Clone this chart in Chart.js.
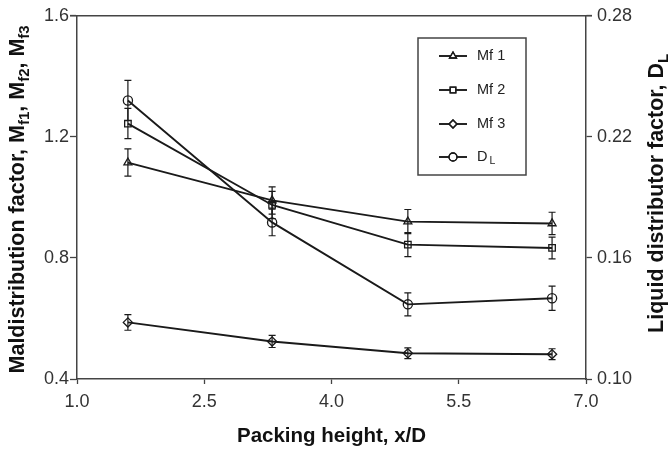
<!DOCTYPE html>
<html>
<head>
<meta charset="utf-8">
<script src="https://cdn.jsdelivr.net/npm/chart.js@4.4.1/dist/chart.umd.min.js"></script>
<style>
  html, body { margin:0; padding:0; background:#fff; }
  #wrap { width:669px; height:452px; position:relative; }
</style>
</head>
<body>
<div id="wrap"><canvas id="c"></canvas></div>
<script>
// ── Data ───────────────────────────────────────
const X_POS   = [1.6, 3.3, 4.9, 6.6];

const MF1     = [1.115, 0.99, 0.92, 0.914];
const MF1_ERR = [0.045, 0.045, 0.04, 0.037];

const MF2     = [1.244, 0.975, 0.844, 0.833];
const MF2_ERR = [0.05, 0.045, 0.04, 0.036];

const MF3     = [0.587, 0.524, 0.485, 0.482];
const MF3_ERR = [0.026, 0.02, 0.018, 0.018];

const DL      = [0.238, 0.1776, 0.137, 0.140];
const DL_ERR  = [0.010, 0.0066, 0.0057, 0.006];

const X_TICKS  = { min:1.0, max:7.0, step:1.5 };
const Y1_TICKS = { min:0.4, max:1.6, step:0.4 };
const Y2_TICKS = { min:0.10, max:0.28, step:0.06 };

const INK  = '#1a1a1a';
const AXIS = '#444';
const FONT = "'Liberation Sans', Arial, sans-serif";

Chart.defaults.font.family = FONT;

const pts = ys => X_POS.map((x, i) => ({ x, y: ys[i] }));

function series(label, ys, err, style, axis) {
    return {
        label, data: pts(ys), err, yAxisID: axis,
        borderColor: INK, borderWidth: 1.9,
        pointStyle: style, pointRadius: 4.6,
        pointBorderColor: INK, pointBorderWidth: 1.3,
        pointBackgroundColor: 'rgba(0,0,0,0)',
        tension: 0,
    };
}

// ── Plugins ────────────────────────────────────
const errorBars = {
    id: 'errorBars',
    beforeDatasetsDraw(chart) {
        const ctx = chart.ctx;
        ctx.save();
        ctx.strokeStyle = INK;
        ctx.lineWidth = 1.2;
        chart.data.datasets.forEach(ds => {
            const ys = chart.scales[ds.yAxisID];
            const xs = chart.scales.x;
            ds.data.forEach((p, i) => {
                const e  = ds.err[i];
                const px = xs.getPixelForValue(p.x);
                const t  = ys.getPixelForValue(p.y + e);
                const b  = ys.getPixelForValue(p.y - e);
                ctx.beginPath();
                ctx.moveTo(px, t); ctx.lineTo(px, b);
                ctx.moveTo(px - 3.5, t); ctx.lineTo(px + 3.5, t);
                ctx.moveTo(px - 3.5, b); ctx.lineTo(px + 3.5, b);
                ctx.stroke();
            });
        });
        ctx.restore();
    },
};

// draws [{t, sub}] pieces centred on (0,0) of current transform
function richText(ctx, parts, size) {
    const subSize = Math.round(size * 0.7);
    const fnt = s => `bold ${s}px ${FONT}`;
    let w = 0;
    parts.forEach(p => { ctx.font = fnt(p.sub ? subSize : size); w += ctx.measureText(p.t).width; });
    let x = -w / 2;
    parts.forEach(p => {
        ctx.font = fnt(p.sub ? subSize : size);
        ctx.fillText(p.t, x, p.sub ? size * 0.32 : 0);
        x += ctx.measureText(p.t).width;
    });
}

const frameAndTitles = {
    id: 'frameAndTitles',
    afterDraw(chart) {
        const { ctx, chartArea: a } = chart;
        ctx.save();
        // top border of the frame
        ctx.strokeStyle = AXIS;
        ctx.lineWidth = 1.5;
        ctx.beginPath();
        ctx.moveTo(a.left - 7, a.top); ctx.lineTo(a.right + 6, a.top);
        ctx.stroke();

        ctx.fillStyle = '#111';
        ctx.textBaseline = 'middle';
        ctx.textAlign = 'left';
        const midY = (a.top + a.bottom) / 2;

        ctx.save();
        ctx.translate(18, midY + 2);
        ctx.rotate(-Math.PI / 2);
        richText(ctx, [
            { t:'Maldistribution factor, M' }, { t:'f1', sub:true },
            { t:', M' }, { t:'f2', sub:true },
            { t:', M' }, { t:'f3', sub:true },
        ], 21.5);
        ctx.restore();

        ctx.save();
        ctx.translate(657, midY - 4);
        ctx.rotate(-Math.PI / 2);
        richText(ctx, [{ t:'Liquid distributor factor, D' }, { t:'L', sub:true }], 21.5);
        ctx.restore();

        ctx.save();
        ctx.translate((a.left + a.right) / 2, 436);
        richText(ctx, [{ t:'Packing height, x/D' }], 20.5);
        ctx.restore();
        ctx.restore();
    },
};

const boxLegend = {
    id: 'boxLegend',
    afterDraw(chart) {
        const ctx = chart.ctx;
        const bx = 418, by = 38, bw = 108, bh = 137;
        const rows = [56, 90, 124, 157];
        ctx.save();
        ctx.strokeStyle = AXIS;
        ctx.lineWidth = 1.5;
        ctx.strokeRect(bx, by, bw, bh);
        chart.data.datasets.forEach((ds, i) => {
            const y = rows[i];
            ctx.strokeStyle = INK;
            ctx.lineWidth = 1.9;
            ctx.beginPath();
            ctx.moveTo(439, y); ctx.lineTo(467, y);
            ctx.stroke();
            ctx.lineWidth = 1.3;
            ctx.fillStyle = '#fff';
            Chart.helpers.drawPoint(ctx, { pointStyle: ds.pointStyle, radius: 4, rotation: 0, borderWidth: 1.3 }, 453, y);
            ctx.stroke();
            ctx.fillStyle = '#222';
            ctx.textBaseline = 'middle';
            ctx.font = `14.5px ${FONT}`;
            if (ds.label === 'DL') {
                ctx.fillText('D', 477, y);
                const w = ctx.measureText('D').width;
                ctx.font = `10.5px ${FONT}`;
                ctx.fillText('L', 477 + w + 2, y + 4);
            } else {
                ctx.fillText(ds.label, 477, y);
            }
        });
        ctx.restore();
    },
};

// ── Axis helper ────────────────────────────────
function axis(t, pos, dec, pad, tick, fit) {
    return {
        type: 'linear', position: pos, min: t.min, max: t.max,
        ticks: {
            stepSize: t.step, color: '#333', padding: pad,
            font: { size: 18 },
            callback: v => Number(v).toFixed(dec),
        },
        grid: { drawOnChartArea: false, drawTicks: true, tickLength: tick, tickColor: AXIS, tickWidth: 1.3 },
        border: { color: AXIS, width: 1.5 },
        afterFit: s => fit(s),
    };
}

new Chart(document.getElementById('c'), {
    type: 'line',
    data: {
        datasets: [
            series('Mf 1', MF1, MF1_ERR, 'triangle', 'y'),
            series('Mf 2', MF2, MF2_ERR, 'rect', 'y'),
            series('Mf 3', MF3, MF3_ERR, 'rectRot', 'y'),
            series('DL',   DL,  DL_ERR,  'circle', 'y2'),
        ],
    },
    options: {
        responsive: true,
        maintainAspectRatio: false,
        animation: false,
        layout: { padding: { top: 2, left: 0, right: 0, bottom: 0 } },
        plugins: { legend: { display: false }, tooltip: { enabled: false } },
        scales: {
            x:  axis(X_TICKS,  'bottom', 1, 7, 5, s => { s.height = 73; }),
            y:  axis(Y1_TICKS, 'left',   1, 1, 7, s => { s.width = 77; }),
            y2: axis(Y2_TICKS, 'right',  2, 5, 6, s => { s.width = 83; }),
        },
    },
    plugins: [errorBars, frameAndTitles, boxLegend],
});
</script>
</body>
</html>
